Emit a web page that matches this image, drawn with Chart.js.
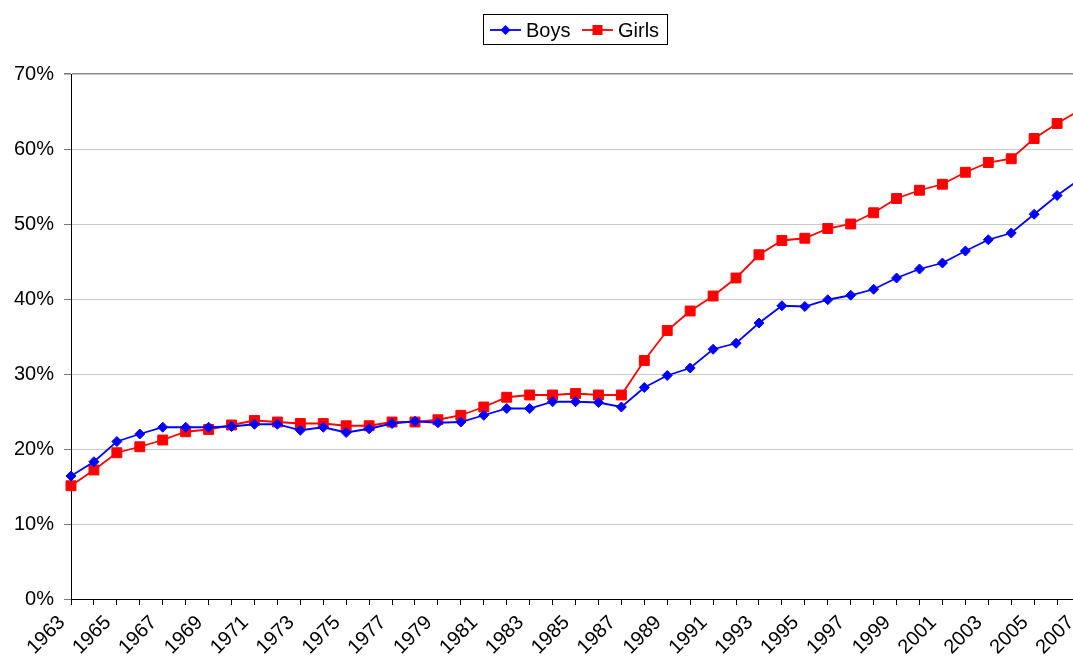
<!DOCTYPE html>
<html lang="en">
<head>
    <meta charset="UTF-8">
    <title>Boys and Girls</title>
    <style>
        body {
            margin: 0;
            padding: 0;
            background: #ffffff;
            overflow: hidden;
        }
        /* the plot runs past the right edge of the window, like the original */
        .chart-container {
            position: relative;
            width: 1103px;
            height: 658px;
        }
    </style>
    <script src="https://cdn.jsdelivr.net/npm/chart.js"></script>
</head>
<body>
    <div class="chart-container">
        <canvas id="shareChart"></canvas>
    </div>

    <script>
        // Data (percent)
        const years = [
            1963, 1964, 1965, 1966, 1967, 1968, 1969, 1970, 1971, 1972,
            1973, 1974, 1975, 1976, 1977, 1978, 1979, 1980, 1981, 1982,
            1983, 1984, 1985, 1986, 1987, 1988, 1989, 1990, 1991, 1992,
            1993, 1994, 1995, 1996, 1997, 1998, 1999, 2000, 2001, 2002,
            2003, 2004, 2005, 2006, 2007
        ];
        const boys = [
            16.4, 18.3, 21.0, 22.0, 22.9, 22.9, 22.9, 23.0, 23.3, 23.3,
            22.5, 22.9, 22.2, 22.7, 23.4, 23.7, 23.5, 23.6, 24.5, 25.4,
            25.4, 26.3, 26.3, 26.2, 25.6, 28.2, 29.8, 30.8, 33.3, 34.1,
            36.8, 39.1, 39.0, 39.9, 40.5, 41.3, 42.8, 44.0, 44.8, 46.4,
            47.9, 48.8, 51.3, 53.8, 56.0
        ];
        const girls = [
            15.1, 17.2, 19.5, 20.3, 21.2, 22.3, 22.6, 23.2, 23.8, 23.6,
            23.4, 23.4, 23.1, 23.1, 23.6, 23.6, 23.9, 24.5, 25.6, 26.9,
            27.2, 27.2, 27.4, 27.2, 27.2, 31.8, 35.8, 38.4, 40.4, 42.8,
            45.9, 47.8, 48.1, 49.4, 50.0, 51.5, 53.4, 54.5, 55.3, 56.9,
            58.2, 58.7, 61.4, 63.4, 65.2
        ];
        const yTicks = [0, 10, 20, 30, 40, 50, 60, 70];

        const FONT = '"Liberation Sans", Arial, sans-serif';

        // Legend in a framed box, line + marker like the spreadsheet legend
        const boxLegend = {
            id: 'boxLegend',
            afterDraw(chart) {
                const ctx = chart.ctx;
                ctx.save();
                ctx.strokeStyle = '#000';
                ctx.lineWidth = 1;
                ctx.strokeRect(483.5, 14.5, 184, 30);
                ctx.font = '20px ' + FONT;
                ctx.textBaseline = 'middle';
                const starts = [490, 582];
                chart.data.datasets.forEach((ds, i) => {
                    const x = starts[i], y = 30;
                    ctx.strokeStyle = ds.borderColor;
                    ctx.fillStyle = ds.borderColor;
                    ctx.lineWidth = 1.8;
                    ctx.beginPath();
                    ctx.moveTo(x, y);
                    ctx.lineTo(x + 31, y);
                    ctx.stroke();
                    const cx = x + 15.5;
                    ctx.beginPath();
                    if (ds.pointStyle === 'rectRot') {
                        ctx.moveTo(cx, y - 5);
                        ctx.lineTo(cx + 5, y);
                        ctx.lineTo(cx, y + 5);
                        ctx.lineTo(cx - 5, y);
                    } else {
                        ctx.rect(cx - 5, y - 5, 10, 10);
                    }
                    ctx.closePath();
                    ctx.fill();
                    ctx.fillStyle = '#000';
                    ctx.fillText(ds.label, x + 36, y + 1);
                });
                ctx.restore();
            }
        };

        const ctx = document.getElementById('shareChart').getContext('2d');
        new Chart(ctx, {
            type: 'line',
            data: {
                labels: years,
                datasets: [{
                    label: 'Boys',
                    data: boys,
                    borderColor: '#0000ff',
                    backgroundColor: '#0000ff',
                    borderWidth: 1.8,
                    pointStyle: 'rectRot',
                    pointRadius: 5,
                    pointBorderWidth: 1,
                    tension: 0
                }, {
                    label: 'Girls',
                    data: girls,
                    borderColor: '#ff0000',
                    backgroundColor: '#ff0000',
                    borderWidth: 1.8,
                    pointStyle: 'rect',
                    pointRadius: 7,
                    pointBorderWidth: 1,
                    tension: 0
                }]
            },
            options: {
                responsive: true,
                maintainAspectRatio: false,
                animation: false,
                layout: {
                    padding: { top: 74, left: 0, right: 0, bottom: 0 }
                },
                plugins: {
                    legend: { display: false },
                    tooltip: { enabled: false }
                },
                scales: {
                    x: {
                        offset: false,
                        border: { color: '#000', width: 1 },
                        grid: {
                            display: true,
                            drawOnChartArea: false,
                            tickLength: 6,
                            tickColor: '#000'
                        },
                        ticks: {
                            autoSkip: false,
                            minRotation: 45,
                            maxRotation: 45,
                            padding: 6,
                            labelOffset: -9,
                            color: '#000',
                            font: { family: FONT, size: 20 },
                            callback: function (value, index) {
                                const y = years[index];
                                return (y - years[0]) % 2 === 0 ? String(y) : '';
                            }
                        },
                        afterFit: (scale) => { scale.height = 59; }
                    },
                    y: {
                        min: 0,
                        max: 70,
                        border: { color: '#000', width: 1 },
                        grid: {
                            color: (c) => c.tick && c.tick.value === 70 ? '#8a8a8a' : '#c8c8c8',
                            lineWidth: (c) => c.tick && c.tick.value === 70 ? 1.5 : 1,
                            tickLength: 7,
                            tickColor: '#777'
                        },
                        afterBuildTicks: (scale) => {
                            scale.ticks = yTicks.map(v => ({ value: v }));
                        },
                        ticks: {
                            padding: 10,
                            color: '#000',
                            font: { family: FONT, size: 20 },
                            callback: (v) => v + '%'
                        },
                        afterFit: (scale) => { scale.width = 71; }
                    }
                }
            },
            plugins: [boxLegend]
        });
    </script>
</body>
</html>
